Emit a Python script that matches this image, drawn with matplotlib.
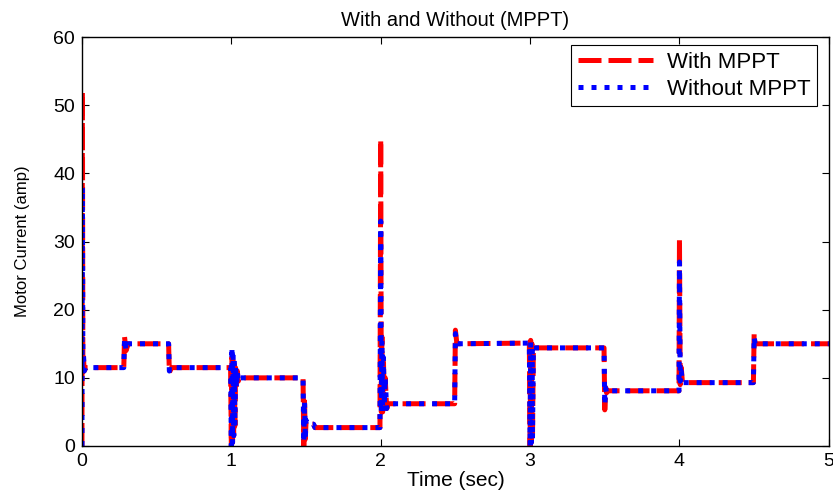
import numpy as np
import matplotlib.pyplot as plt

plt.rcParams['font.family'] = ['Liberation Sans', 'DejaVu Sans']

# motor current with MPPT (time in sec, current in amp)
t_mppt = [0.0, 0.003, 0.006, 0.010, 0.015, 0.025,
          0.280, 0.285, 0.295, 0.310, 0.580, 0.585, 0.600,
          0.995, 1.000, 1.004, 1.008, 1.012, 1.016, 1.020, 1.024, 1.028, 1.034, 1.040, 1.046, 1.055,
          1.480, 1.485, 1.490, 1.495, 1.500, 1.510, 1.550, 1.560,
          1.995, 2.000, 2.004, 2.008, 2.013, 2.018, 2.024, 2.030, 2.040, 2.050,
          2.495, 2.500, 2.510,
          2.995, 3.000, 3.004, 3.008, 3.012, 3.016, 3.022,
          3.495, 3.500, 3.506, 3.512, 3.520,
          3.997, 4.000, 4.005, 4.012, 4.020,
          4.495, 4.500, 4.506, 5.0]
i_mppt = [0.0, 52.0, 12.0, 13.0, 11.0, 11.5,
          11.5, 16.0, 14.0, 15.0, 15.0, 10.8, 11.5,
          11.5, 0.0, 13.0, 0.5, 12.5, 1.5, 12.0, 3.0, 11.5, 8.5, 11.0, 9.5, 10.0,
          10.0, 0.0, 7.0, 1.0, 3.5, 3.2, 3.2, 2.7,
          2.7, 45.0, 5.0, 16.0, 5.0, 13.0, 6.0, 10.0, 5.5, 6.2,
          6.2, 17.0, 15.0,
          15.1, 0.0, 15.5, 0.5, 15.0, 1.0, 14.4,
          14.4, 5.3, 8.6, 7.8, 8.1,
          8.1, 30.5, 9.0, 11.5, 9.3,
          9.3, 16.5, 15.0, 15.0]

# motor current without MPPT
t_nompt = [0.0, 0.003, 0.006, 0.010, 0.015, 0.025,
           0.280, 0.285, 0.295, 0.310, 0.580, 0.585, 0.600,
           0.995, 1.000, 1.004, 1.008, 1.012, 1.016, 1.020, 1.024, 1.028, 1.034, 1.040, 1.046, 1.055,
           1.480, 1.485, 1.490, 1.495, 1.500, 1.510, 1.550, 1.560,
           1.995, 2.000, 2.004, 2.008, 2.013, 2.018, 2.024, 2.030, 2.040, 2.050,
           2.495, 2.500, 2.510,
           2.995, 3.000, 3.004, 3.008, 3.012, 3.016, 3.022,
           3.495, 3.500, 3.506, 3.512, 3.520,
           3.997, 4.000, 4.005, 4.012, 4.020,
           4.495, 4.500, 4.506, 5.0]
i_nompt = [0.0, 38.0, 12.5, 13.5, 11.0, 11.5,
           11.5, 15.8, 14.0, 15.0, 15.0, 11.0, 11.5,
           11.5, 0.0, 14.5, 0.5, 13.5, 1.5, 12.5, 3.0, 12.0, 8.5, 11.0, 9.5, 10.0,
           10.0, 0.5, 6.5, 1.0, 3.8, 3.2, 3.2, 2.7,
           2.7, 33.0, 5.0, 15.5, 5.0, 13.0, 6.0, 10.0, 5.5, 6.2,
           6.2, 16.5, 15.0,
           15.1, 0.0, 15.3, 0.5, 14.8, 1.0, 14.4,
           14.4, 6.0, 8.5, 7.8, 8.1,
           8.1, 27.0, 9.5, 11.0, 9.3,
           9.3, 16.0, 15.0, 15.0]

fig = plt.figure(figsize=(8.33, 4.95), dpi=100)
ax = fig.add_axes([0.0984, 0.099, 0.8966, 0.826])

ax.plot(t_mppt, i_mppt, color='red', lw=3.6, linestyle=(0, (4.6, 1.4)),
        solid_capstyle='butt', label='With MPPT')
ax.plot(t_nompt, i_nompt, color='blue', lw=3.6, linestyle=(0, (1.0, 1.6)),
        label='Without MPPT')

ax.set_xlim(0, 5)
ax.set_ylim(0, 60)
ax.set_xticks([0, 1, 2, 3, 4, 5])
ax.set_yticks([0, 10, 20, 30, 40, 50, 60])
ax.tick_params(direction='in', top=True, right=True, length=5, width=0.8,
               labelsize=14, pad=5)
for s in ax.spines.values():
    s.set_linewidth(1.0)

ax.set_title('With and Without (MPPT)', fontsize=14.5, pad=8)
ax.set_xlabel('Time (sec)', fontsize=15, labelpad=1)
ax.set_ylabel('Motor Current (amp)', fontsize=12, labelpad=17)

leg = ax.legend(loc='upper right', bbox_to_anchor=(0.984, 0.98), borderaxespad=0,
                fontsize=16, fancybox=False, framealpha=1, edgecolor='black',
                handlelength=3.4, handletextpad=0.6, borderpad=0.3,
                labelspacing=0.25)
leg.get_frame().set_linewidth(0.8)

fig.savefig('out.png', dpi=100)
